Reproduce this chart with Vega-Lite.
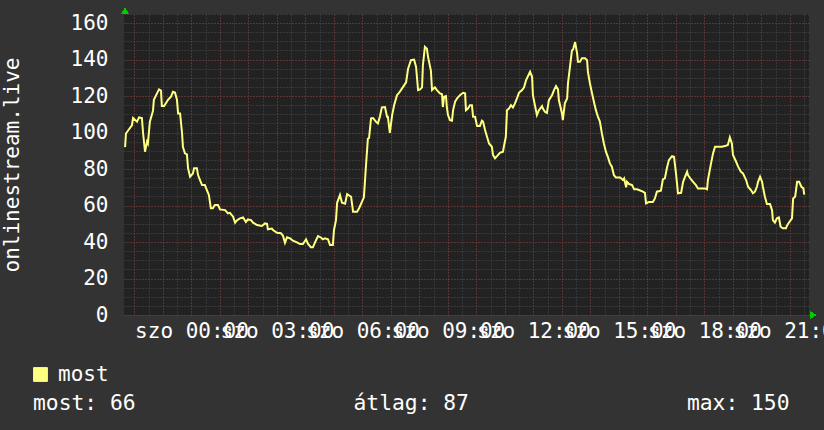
{
  "$schema": "https://vega.github.io/schema/vega-lite/v6.json",
  "width": 685,
  "height": 301,
  "autosize": {"type": "none"},
  "padding": {"left": 124, "top": 14, "right": 15, "bottom": 115},
  "background": "#333333",
  "config": {
    "font": "DejaVu Sans Mono",
    "view": {"fill": "#222222", "stroke": null}
  },
  "title": {
    "text": "most: 66\u00a0\u00a0\u00a0\u00a0\u00a0\u00a0\u00a0\u00a0\u00a0\u00a0\u00a0\u00a0\u00a0\u00a0\u00a0\u00a0\u00a0átlag: 87\u00a0\u00a0\u00a0\u00a0\u00a0\u00a0\u00a0\u00a0\u00a0\u00a0\u00a0\u00a0\u00a0\u00a0\u00a0\u00a0\u00a0max: 150",
    "orient": "bottom",
    "anchor": "start",
    "frame": "group",
    "dx": -91,
    "offset": 8,
    "font": "DejaVu Sans Mono",
    "fontSize": 21.3,
    "fontWeight": "normal",
    "color": "#ffffff"
  },
  "data": {"values": [
    {"hour": -2.33, "value": 92}, {"hour": -2.30, "value": 99.5}, {"hour": -2.23, "value": 101}, {"hour": -2.09, "value": 104}, {"hour": -2.05, "value": 108}, {"hour": -1.91, "value": 106}, {"hour": -1.84, "value": 108.3}, {"hour": -1.74, "value": 108}, {"hour": -1.70, "value": 100}, {"hour": -1.63, "value": 89.5}, {"hour": -1.56, "value": 95}, {"hour": -1.53, "value": 94}, {"hour": -1.46, "value": 106}, {"hour": -1.35, "value": 112}, {"hour": -1.32, "value": 118}, {"hour": -1.21, "value": 121.5}, {"hour": -1.14, "value": 123.7}, {"hour": -1.07, "value": 123}, {"hour": -1.04, "value": 114.5}, {"hour": -0.96, "value": 114.5}, {"hour": -0.86, "value": 117}, {"hour": -0.82, "value": 118}, {"hour": -0.72, "value": 119.6}, {"hour": -0.65, "value": 122.4}, {"hour": -0.58, "value": 122}, {"hour": -0.51, "value": 118}, {"hour": -0.47, "value": 110.5}, {"hour": -0.40, "value": 110.5}, {"hour": -0.33, "value": 99.5}, {"hour": -0.30, "value": 92}, {"hour": -0.23, "value": 88.6}, {"hour": -0.16, "value": 88}, {"hour": -0.12, "value": 80.4}, {"hour": -0.05, "value": 75.8},
    {"hour": 0.05, "value": 77.6}, {"hour": 0.09, "value": 80.4}, {"hour": 0.19, "value": 80.4}, {"hour": 0.23, "value": 76.7}, {"hour": 0.30, "value": 74}, {"hour": 0.37, "value": 71.2}, {"hour": 0.47, "value": 71.2}, {"hour": 0.54, "value": 68.5}, {"hour": 0.61, "value": 65.8}, {"hour": 0.68, "value": 58.5}, {"hour": 0.75, "value": 58.5}, {"hour": 0.82, "value": 60.3}, {"hour": 0.93, "value": 60.3}, {"hour": 1.00, "value": 57.9}, {"hour": 1.18, "value": 57.5}, {"hour": 1.28, "value": 55.7}, {"hour": 1.35, "value": 56}, {"hour": 1.46, "value": 53.9}, {"hour": 1.53, "value": 50.6}, {"hour": 1.60, "value": 52}, {"hour": 1.70, "value": 53}, {"hour": 1.81, "value": 53.5}, {"hour": 1.91, "value": 51}, {"hour": 1.98, "value": 52.4}, {"hour": 2.09, "value": 52}, {"hour": 2.16, "value": 50.6}, {"hour": 2.30, "value": 49.3}, {"hour": 2.47, "value": 48.8}, {"hour": 2.58, "value": 50.2}, {"hour": 2.65, "value": 50}, {"hour": 2.68, "value": 47}, {"hour": 2.82, "value": 47.4}, {"hour": 2.86, "value": 46.6},
    {"hour": 3.00, "value": 45.1}, {"hour": 3.14, "value": 44.8}, {"hour": 3.21, "value": 43.5}, {"hour": 3.28, "value": 39.6}, {"hour": 3.35, "value": 42.6}, {"hour": 3.46, "value": 42}, {"hour": 3.56, "value": 40.7}, {"hour": 3.70, "value": 39.8}, {"hour": 3.81, "value": 38.9}, {"hour": 3.91, "value": 38.9}, {"hour": 4.02, "value": 41.5}, {"hour": 4.09, "value": 39}, {"hour": 4.19, "value": 37.1}, {"hour": 4.26, "value": 37.1}, {"hour": 4.37, "value": 41}, {"hour": 4.44, "value": 43.3}, {"hour": 4.54, "value": 42.5}, {"hour": 4.61, "value": 41.5}, {"hour": 4.68, "value": 42}, {"hour": 4.79, "value": 41.5}, {"hour": 4.86, "value": 38.4}, {"hour": 4.96, "value": 38.4}, {"hour": 5.00, "value": 46.6}, {"hour": 5.07, "value": 52}, {"hour": 5.11, "value": 61.5}, {"hour": 5.21, "value": 65.8}, {"hour": 5.28, "value": 61.5}, {"hour": 5.39, "value": 61}, {"hour": 5.46, "value": 66.3}, {"hour": 5.60, "value": 64.8}, {"hour": 5.67, "value": 56.6}, {"hour": 5.81, "value": 56.6}, {"hour": 5.88, "value": 58.5}, {"hour": 5.98, "value": 62},
    {"hour": 6.05, "value": 64.5}, {"hour": 6.12, "value": 81.3}, {"hour": 6.19, "value": 96.8}, {"hour": 6.23, "value": 97}, {"hour": 6.30, "value": 107.8}, {"hour": 6.37, "value": 108}, {"hour": 6.47, "value": 106}, {"hour": 6.54, "value": 105}, {"hour": 6.61, "value": 108.7}, {"hour": 6.68, "value": 113.8}, {"hour": 6.79, "value": 114}, {"hour": 6.86, "value": 108.7}, {"hour": 6.89, "value": 108.7}, {"hour": 6.96, "value": 99.9}, {"hour": 7.04, "value": 109.6}, {"hour": 7.11, "value": 115}, {"hour": 7.21, "value": 120.5}, {"hour": 7.28, "value": 121.7}, {"hour": 7.39, "value": 124.2}, {"hour": 7.53, "value": 127.5}, {"hour": 7.60, "value": 135}, {"hour": 7.70, "value": 139.7}, {"hour": 7.81, "value": 140}, {"hour": 7.88, "value": 136}, {"hour": 7.95, "value": 123.3}, {"hour": 8.02, "value": 123.7}, {"hour": 8.09, "value": 124.8}, {"hour": 8.12, "value": 137}, {"hour": 8.19, "value": 147}, {"hour": 8.26, "value": 146}, {"hour": 8.30, "value": 141.5}, {"hour": 8.40, "value": 134}, {"hour": 8.44, "value": 123.3}, {"hour": 8.54, "value": 124.8}, {"hour": 8.61, "value": 123.3}, {"hour": 8.72, "value": 121.5}, {"hour": 8.79, "value": 121}, {"hour": 8.82, "value": 114}, {"hour": 8.86, "value": 119.6}, {"hour": 8.93, "value": 120}, {"hour": 8.96, "value": 114},
    {"hour": 9.00, "value": 109.6}, {"hour": 9.07, "value": 106.8}, {"hour": 9.14, "value": 106.5}, {"hour": 9.18, "value": 112.3}, {"hour": 9.25, "value": 117}, {"hour": 9.32, "value": 118.7}, {"hour": 9.42, "value": 120.5}, {"hour": 9.53, "value": 121.8}, {"hour": 9.60, "value": 121.5}, {"hour": 9.63, "value": 112.3}, {"hour": 9.70, "value": 113.2}, {"hour": 9.77, "value": 115}, {"hour": 9.84, "value": 115}, {"hour": 9.88, "value": 108.7}, {"hour": 9.95, "value": 108.7}, {"hour": 10.02, "value": 103.6}, {"hour": 10.12, "value": 103.6}, {"hour": 10.19, "value": 106.5}, {"hour": 10.23, "value": 106}, {"hour": 10.30, "value": 101.4}, {"hour": 10.37, "value": 97.7}, {"hour": 10.44, "value": 94}, {"hour": 10.54, "value": 92.2}, {"hour": 10.58, "value": 87.7}, {"hour": 10.65, "value": 85.9}, {"hour": 10.72, "value": 87.1}, {"hour": 10.82, "value": 88.9}, {"hour": 10.93, "value": 89.5}, {"hour": 10.96, "value": 92.2}, {"hour": 11.03, "value": 97.7}, {"hour": 11.07, "value": 112.3}, {"hour": 11.14, "value": 113.2}, {"hour": 11.21, "value": 115}, {"hour": 11.28, "value": 113.8}, {"hour": 11.35, "value": 116}, {"hour": 11.42, "value": 118.7}, {"hour": 11.49, "value": 121.8}, {"hour": 11.60, "value": 123.3}, {"hour": 11.67, "value": 124.8}, {"hour": 11.74, "value": 128.8}, {"hour": 11.81, "value": 131}, {"hour": 11.88, "value": 133.3}, {"hour": 11.95, "value": 130.6}, {"hour": 11.98, "value": 120.5},
    {"hour": 12.05, "value": 115}, {"hour": 12.12, "value": 109.6}, {"hour": 12.19, "value": 112.3}, {"hour": 12.30, "value": 114.5}, {"hour": 12.33, "value": 113.2}, {"hour": 12.40, "value": 111.4}, {"hour": 12.47, "value": 110.8}, {"hour": 12.54, "value": 117.8}, {"hour": 12.65, "value": 120.5}, {"hour": 12.72, "value": 123.3}, {"hour": 12.79, "value": 125.5}, {"hour": 12.86, "value": 123.7}, {"hour": 12.89, "value": 117.8}, {"hour": 13.00, "value": 110.5}, {"hour": 13.03, "value": 106.8}, {"hour": 13.10, "value": 116}, {"hour": 13.18, "value": 118.7}, {"hour": 13.21, "value": 127}, {"hour": 13.28, "value": 136}, {"hour": 13.35, "value": 145}, {"hour": 13.39, "value": 145.6}, {"hour": 13.46, "value": 149.6}, {"hour": 13.53, "value": 143.4}, {"hour": 13.56, "value": 138.8}, {"hour": 13.63, "value": 138.8}, {"hour": 13.70, "value": 140.7}, {"hour": 13.81, "value": 140.7}, {"hour": 13.88, "value": 139.7}, {"hour": 13.91, "value": 133.3}, {"hour": 13.98, "value": 127}, {"hour": 14.05, "value": 121.8}, {"hour": 14.12, "value": 116.9}, {"hour": 14.19, "value": 112.3}, {"hour": 14.26, "value": 108.7}, {"hour": 14.33, "value": 106}, {"hour": 14.40, "value": 99.5}, {"hour": 14.47, "value": 94}, {"hour": 14.54, "value": 89.5}, {"hour": 14.61, "value": 86.7}, {"hour": 14.68, "value": 83.1}, {"hour": 14.75, "value": 81.3}, {"hour": 14.82, "value": 76.7}, {"hour": 14.89, "value": 75.4},
    {"hour": 15.04, "value": 75.4}, {"hour": 15.14, "value": 74}, {"hour": 15.18, "value": 74.9}, {"hour": 15.25, "value": 70}, {"hour": 15.28, "value": 73}, {"hour": 15.35, "value": 71.8}, {"hour": 15.46, "value": 71.2}, {"hour": 15.53, "value": 68.9}, {"hour": 15.63, "value": 68.9}, {"hour": 15.70, "value": 68.5}, {"hour": 15.84, "value": 67.6}, {"hour": 15.91, "value": 67}, {"hour": 15.95, "value": 61.2}, {"hour": 16.05, "value": 62}, {"hour": 16.19, "value": 62}, {"hour": 16.26, "value": 63.9}, {"hour": 16.33, "value": 67.6}, {"hour": 16.47, "value": 68.1}, {"hour": 16.54, "value": 74.3}, {"hour": 16.61, "value": 74.9}, {"hour": 16.68, "value": 80.4}, {"hour": 16.75, "value": 84.9}, {"hour": 16.86, "value": 87.1}, {"hour": 16.93, "value": 86.7}, {"hour": 17.00, "value": 77.6}, {"hour": 17.07, "value": 66.7}, {"hour": 17.18, "value": 67}, {"hour": 17.25, "value": 73}, {"hour": 17.32, "value": 75.8}, {"hour": 17.39, "value": 78.5}, {"hour": 17.42, "value": 76.7}, {"hour": 17.53, "value": 74.3}, {"hour": 17.60, "value": 73}, {"hour": 17.70, "value": 71.2}, {"hour": 17.77, "value": 69.4},
    {"hour": 18.02, "value": 69.4}, {"hour": 18.09, "value": 68.9}, {"hour": 18.12, "value": 74}, {"hour": 18.23, "value": 83.1}, {"hour": 18.30, "value": 88.6}, {"hour": 18.37, "value": 92.2}, {"hour": 18.61, "value": 92.2}, {"hour": 18.72, "value": 92.6}, {"hour": 18.82, "value": 93.2}, {"hour": 18.89, "value": 97.4}, {"hour": 18.96, "value": 94}, {"hour": 19.00, "value": 87.7}, {"hour": 19.11, "value": 84}, {"hour": 19.18, "value": 81.3}, {"hour": 19.28, "value": 78.5}, {"hour": 19.35, "value": 77.6}, {"hour": 19.46, "value": 74}, {"hour": 19.53, "value": 70.3}, {"hour": 19.63, "value": 68.5}, {"hour": 19.70, "value": 66.7}, {"hour": 19.77, "value": 67.6}, {"hour": 19.84, "value": 70.3}, {"hour": 19.88, "value": 73}, {"hour": 19.95, "value": 75.8}, {"hour": 20.02, "value": 73}, {"hour": 20.05, "value": 70.3}, {"hour": 20.12, "value": 64.8}, {"hour": 20.19, "value": 60.8}, {"hour": 20.30, "value": 60.8}, {"hour": 20.37, "value": 57.5}, {"hour": 20.40, "value": 52}, {"hour": 20.47, "value": 50.6}, {"hour": 20.54, "value": 53}, {"hour": 20.61, "value": 53.5}, {"hour": 20.67, "value": 48.4}, {"hour": 20.75, "value": 47.5}, {"hour": 20.86, "value": 47.5}, {"hour": 20.89, "value": 48.8}, {"hour": 20.96, "value": 50.6}, {"hour": 21.07, "value": 53}, {"hour": 21.11, "value": 63.9}, {"hour": 21.18, "value": 64.8}, {"hour": 21.25, "value": 73}, {"hour": 21.32, "value": 73}, {"hour": 21.40, "value": 70.3}, {"hour": 21.47, "value": 69.4}, {"hour": 21.50, "value": 66}
  ]},
  "layer": [
    {
      "mark": {"type": "line", "opacity": 0},
      "encoding": {
        "x": {"field": "hour", "type": "quantitative", "scale": {"domain": [-2.368, 21.667], "nice": false, "zero": false},
          "axis": {"orient": "bottom", "values": [-2, -1.5, -1, -0.5, 0, 0.5, 1, 1.5, 2, 2.5, 3, 3.5, 4, 4.5, 5, 5.5, 6, 6.5, 7, 7.5, 8, 8.5, 9, 9.5, 10, 10.5, 11, 11.5, 12, 12.5, 13, 13.5, 14, 14.5, 15, 15.5, 16, 16.5, 17, 17.5, 18, 18.5, 19, 19.5, 20, 20.5, 21, 21.5],
            "grid": true, "gridColor": "#4d4d4d", "gridDash": [1, 2], "gridWidth": 1, "labels": false, "ticks": false, "domain": false, "title": null}},
        "y": {"field": "value", "type": "quantitative", "scale": {"domain": [0, 165], "nice": false, "zero": true},
          "axis": {"orient": "left", "values": [0, 5, 10, 15, 20, 25, 30, 35, 40, 45, 50, 55, 60, 65, 70, 75, 80, 85, 90, 95, 100, 105, 110, 115, 120, 125, 130, 135, 140, 145, 150, 155, 160, 165],
            "grid": true, "gridColor": "#4d4d4d", "gridDash": [1, 2], "gridWidth": 1, "labels": false, "ticks": false, "domain": false, "title": null}}
      }
    },
    {
      "mark": {"type": "line", "opacity": 0},
      "encoding": {
        "x": {"field": "hour", "type": "quantitative", "scale": {"domain": [-2.368, 21.667], "nice": false, "zero": false},
          "axis": {"orient": "bottom", "values": [-2, -1, 0, 1, 2, 3, 4, 5, 6, 7, 8, 9, 10, 11, 12, 13, 14, 15, 16, 17, 18, 19, 20, 21],
            "grid": true, "gridColor": "#803434", "gridDash": [1, 2], "gridWidth": 1, "labels": false, "ticks": false, "domain": false, "title": null}},
        "y": {"field": "value", "type": "quantitative", "scale": {"domain": [0, 165], "nice": false, "zero": true},
          "axis": {"orient": "left", "values": [0, 20, 40, 60, 80, 100, 120, 140, 160],
            "grid": true, "gridColor": "#803434", "gridDash": [1, 2], "gridWidth": 1, "labels": false, "ticks": false, "domain": false, "title": null}}
      }
    },
    {
      "mark": {"type": "line", "strokeWidth": 2, "interpolate": "linear"},
      "encoding": {
        "x": {"field": "hour", "type": "quantitative", "scale": {"domain": [-2.368, 21.667], "nice": false, "zero": false},
          "axis": {"orient": "bottom", "values": [0, 3, 6, 9, 12, 15, 18, 21],
            "labelExpr": "'szo ' + (datum.value < 10 ? '0' : '') + datum.value + ':00'",
            "grid": false, "ticks": false, "domain": false, "title": null,
            "labelColor": "#ffffff", "labelFont": "DejaVu Sans Mono", "labelFontSize": 21, "labelPadding": 5,
            "labelOverlap": false, "labelFlush": false, "labelBound": false}},
        "y": {"field": "value", "type": "quantitative", "scale": {"domain": [0, 165], "nice": false, "zero": true},
          "axis": {"orient": "left", "values": [0, 20, 40, 60, 80, 100, 120, 140, 160],
            "grid": false, "ticks": false, "domain": false,
            "labelColor": "#ffffff", "labelFont": "DejaVu Sans Mono", "labelFontSize": 21, "labelPadding": 16,
            "title": "onlinestream.live", "titleColor": "#ffffff", "titleFont": "DejaVu Sans Mono", "titleFontSize": 21, "titleFontWeight": "normal", "titlePadding": 48}},
        "color": {"datum": "most", "type": "nominal", "scale": {"range": ["#ffff80"]},
          "legend": {"orient": "none", "legendX": -94, "legendY": 350, "title": null, "padding": 0,
            "symbolType": "square", "symbolSize": 190, "labelFont": "DejaVu Sans Mono", "labelFontSize": 21, "labelColor": "#ffffff", "labelOffset": 7,
            "encode": {"symbols": {"update": {"fill": {"value": "#ffff80"}, "stroke": {"value": "#000000"}, "strokeWidth": {"value": 1}, "opacity": {"value": 1}}}}}}
      }
    },
    {
      "mark": {"type": "point", "shape": "triangle-up", "filled": true, "color": "#00cc00", "opacity": 1, "size": 40, "yOffset": -3},
      "encoding": {
        "x": {"datum": -2.333, "type": "quantitative", "axis": null},
        "y": {"datum": 165, "type": "quantitative", "axis": null}
      }
    },
    {
      "mark": {"type": "point", "shape": "triangle-right", "filled": true, "color": "#00cc00", "opacity": 1, "size": 40},
      "encoding": {
        "x": {"datum": 21.81, "type": "quantitative", "axis": null},
        "y": {"datum": 0, "type": "quantitative", "axis": null}
      }
    }
  ],
  "resolve": {"axis": {"x": "independent", "y": "independent"}}
}
